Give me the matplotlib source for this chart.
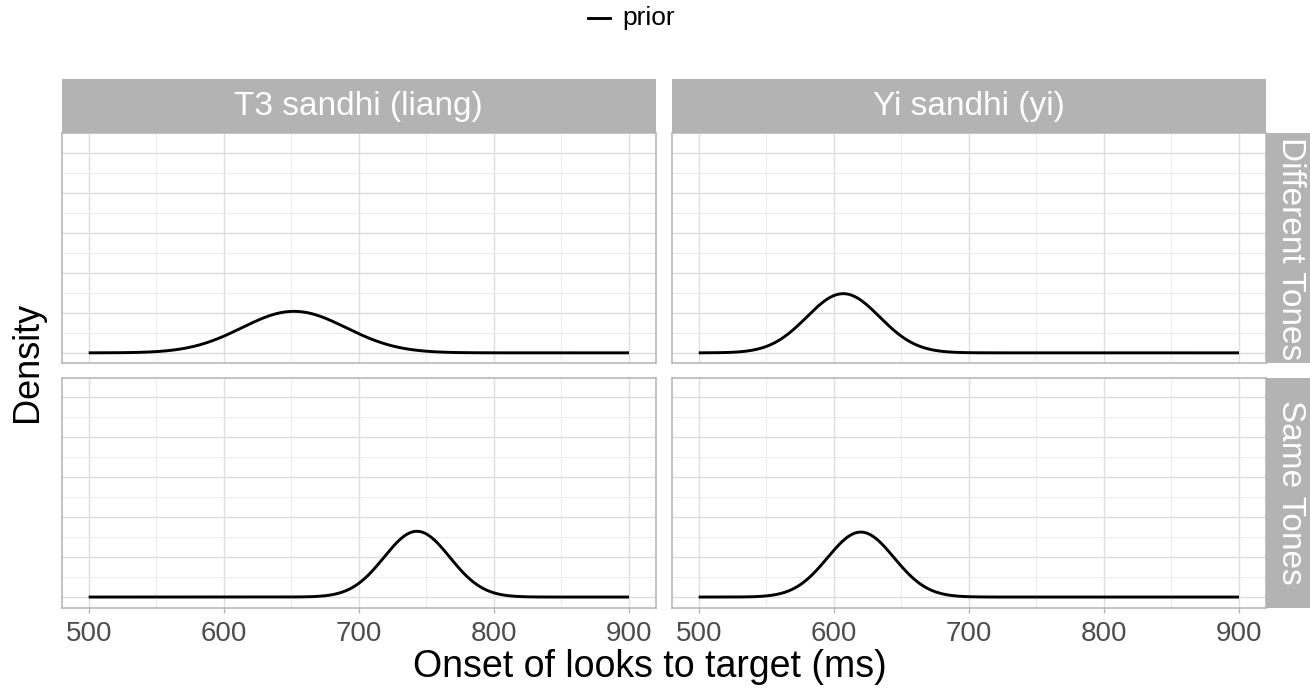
import numpy as np
import matplotlib
matplotlib.use("Agg")
import matplotlib.pyplot as plt
from matplotlib.patches import Rectangle

plt.rcParams["font.family"] = ["Liberation Sans", "DejaVu Sans"]

# facet layout and prior parameters
col_labels = ["T3 sandhi (liang)", "Yi sandhi (yi)"]
row_labels = ["Different Tones", "Same Tones"]
prior_mean = [[652, 607], [743, 620]]
prior_sd = [[38.5, 27.0], [24.3, 24.6]]
x_ticks = [500, 600, 700, 800, 900]
x_from, x_to = 500, 900
legend_label = "prior"

W, H = 1310, 689
fig = plt.figure(figsize=(W / 100, H / 100), dpi=100)

GRID = "#DEDEDE"
GRID_MINOR = "#EBEBEB"
BORDER = "#B3B3B3"
STRIP = "#B3B3B3"

panel_left = [61.7, 671.7]
panel_w = 594.3
panel_top = [133.3, 377.5]
panel_h = 230.0
ymax_data = 0.0522

x = np.linspace(x_from, x_to, 801)

for r in range(2):
    for c in range(2):
        ax = fig.add_axes([panel_left[c] / W, 1 - (panel_top[r] + panel_h) / H,
                           panel_w / W, panel_h / H])
        mu, sd = prior_mean[r][c], prior_sd[r][c]
        y = np.exp(-0.5 * ((x - mu) / sd) ** 2) / (sd * np.sqrt(2 * np.pi))
        ax.plot(x, y, color="black", lw=2.1, solid_capstyle="butt", zorder=3)
        ax.set_xlim(480, 920)
        ax.set_ylim(-0.05 * ymax_data, 1.05 * ymax_data)
        ax.set_xticks(x_ticks)
        ax.set_xticks([550, 650, 750, 850], minor=True)
        ax.set_yticks(np.arange(0, 0.051, 0.01))
        ax.set_yticks(np.arange(0.005, 0.051, 0.01), minor=True)
        ax.grid(True, which="major", color=GRID, lw=1.0, zorder=0)
        ax.grid(True, which="minor", color=GRID_MINOR, lw=0.7, zorder=0)
        ax.set_axisbelow(True)
        ax.tick_params(axis="y", which="both", left=False, labelleft=False)
        ax.tick_params(axis="x", which="minor", bottom=False)
        if r == 1:
            ax.tick_params(axis="x", which="major", length=3.5, width=1.0,
                           color=BORDER, labelsize=20, labelcolor="#4D4D4D", pad=6)
        else:
            ax.tick_params(axis="x", which="major", bottom=False, labelbottom=False)
        for s in ax.spines.values():
            s.set_color(BORDER)
            s.set_linewidth(1.1)

# strips on top
strip_top, strip_h = 79.3, 54.0
for c in range(2):
    fig.patches.append(Rectangle((panel_left[c] / W, 1 - (strip_top + strip_h) / H),
                                 panel_w / W, strip_h / H, transform=fig.transFigure,
                                 facecolor=STRIP, edgecolor="none"))
    fig.text((panel_left[c] + panel_w / 2) / W, 1 - (strip_top + strip_h / 2) / H,
             col_labels[c], color="white", fontsize=24, ha="center", va="center")

# strips on the right
strip_left, strip_w = 1266.0, 44.0
for r in range(2):
    fig.patches.append(Rectangle((strip_left / W, 1 - (panel_top[r] + panel_h) / H),
                                 strip_w / W, panel_h / H, transform=fig.transFigure,
                                 facecolor=STRIP, edgecolor="none"))
    fig.text((strip_left + strip_w / 2 + 2) / W, 1 - (panel_top[r] + panel_h / 2) / H,
             row_labels[r], color="white", fontsize=24, ha="center", va="center",
             rotation=-90)

# axis titles
fig.text(650 / W, 1 - 667 / H, "Onset of looks to target (ms)", fontsize=27,
         ha="center", va="center")
fig.text(28 / W, 1 - 362 / H, "Density", fontsize=26, ha="center", va="center",
         rotation=90)

# legend at top
fig.add_artist(plt.Line2D([588 / W, 610 / W], [1 - 18 / H, 1 - 18 / H],
                          color="black", lw=2.1, transform=fig.transFigure))
fig.text(622 / W, 1 - 18 / H, legend_label, fontsize=19, ha="left", va="center")

fig.savefig("out.png", dpi=100, facecolor="white")
